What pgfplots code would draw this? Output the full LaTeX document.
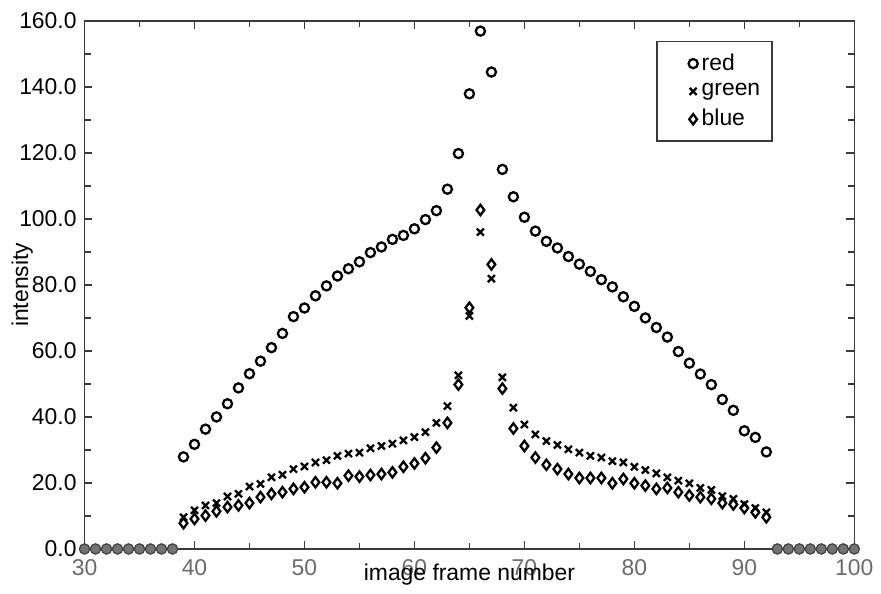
\documentclass[border=0pt]{standalone}
\usepackage{fontspec}
\setmainfont{Liberation Sans}
\usepackage{pgfplots}
\pgfplotsset{compat=1.18}
\definecolor{axisgray}{HTML}{3A3A3A}
\definecolor{ticklab}{HTML}{6A6A6A}

\begin{document}
\fontsize{11.5}{13.8}\selectfont
\begin{tikzpicture}
\begin{axis}[
  name=ax,
  scale only axis,
  width=387pt, height=265.5pt,
  xmin=30, xmax=100, ymin=0, ymax=160,
  xtick={30,40,...,100}, minor xtick={35,45,...,95},
  ytick={0,20,...,160}, minor ytick={10,30,...,150},
  tick align=inside,
  major tick length=4pt, minor tick length=3pt,
  axis line style={axisgray, line width=0.75pt},
  every tick/.style={axisgray, line width=0.75pt},
  /pgf/number format/assume math mode=true,
  yticklabel style={/pgf/number format/.cd, fixed, fixed zerofill, precision=1},
  xticklabel style={text=ticklab, yshift=-1.5pt},
  xlabel={image frame number}, ylabel={intensity},
  xlabel style={at={(axis description cs:0.5,-0.049)}, anchor=center},
  ylabel style={at={(axis description cs:-0.081,0.5)}, anchor=center},
  legend style={at={(axis description cs:0.743,0.962)}, anchor=north west,
    draw=axisgray, line width=0.75pt, inner xsep=4pt, inner ysep=4pt,
    row sep=1pt},
  legend cell align=left,
  legend image code/.code={
    \path (0pt,0pt) (15pt,0pt);
    \path[#1] plot[only marks] coordinates {(13.5pt,0pt)};
  },
]
% red
\addplot[only marks, mark=o, mark size=2.3pt, line width=1.15pt, black] coordinates {
  (39,27.9) (40,31.7) (41,36.3) (42,40.0) (43,44.0) (44,48.8) (45,53.1) (46,56.9)
  (47,61.0) (48,65.3) (49,70.4) (50,73.0) (51,76.7) (52,79.7) (53,82.7) (54,84.9)
  (55,87.0) (56,89.8) (57,91.5) (58,93.8) (59,95.0) (60,97.0) (61,99.8) (62,102.5)
  (63,109.0) (64,119.8) (65,137.9) (66,156.9) (67,144.5) (68,115.0) (69,106.7)
  (70,100.5) (71,96.3) (72,93.2) (73,91.2) (74,88.6) (75,86.3) (76,84.1) (77,81.6)
  (78,79.4) (79,76.4) (80,73.5) (81,70.0) (82,67.1) (83,64.2) (84,59.8) (85,56.3)
  (86,53.0) (87,49.8) (88,45.3) (89,42.0) (90,35.8) (91,33.8) (92,29.4)
};
% green
\addplot[only marks, mark=x, mark size=2.5pt, line width=1.15pt, black] coordinates {
  (39,9.6) (40,11.7) (41,13.2) (42,13.9) (43,15.9) (44,16.7) (45,18.9) (46,19.7)
  (47,21.7) (48,22.5) (49,24.2) (50,25.0) (51,26.2) (52,26.9) (53,28.2) (54,28.9)
  (55,29.2) (56,30.5) (57,31.2) (58,31.9) (59,32.9) (60,33.9) (61,35.4) (62,38.2)
  (63,43.3) (64,52.6) (65,70.6) (66,96.0) (67,81.9) (68,52.0) (69,42.8) (70,37.7)
  (71,34.7) (72,32.7) (73,31.5) (74,30.2) (75,29.2) (76,28.2) (77,27.7) (78,26.6)
  (79,26.2) (80,24.9) (81,23.9) (82,22.9) (83,21.7) (84,20.7) (85,19.9) (86,18.5)
  (87,17.9) (88,16.0) (89,15.2) (90,13.6) (91,12.4) (92,11.1)
};
% blue
\addplot[only marks, mark=diamond, mark size=2.6pt, line width=1.15pt, black] coordinates {
  (39,7.8) (40,9.1) (41,10.1) (42,11.4) (43,12.7) (44,13.2) (45,13.9) (46,15.7)
  (47,16.7) (48,17.2) (49,18.2) (50,18.7) (51,20.2) (52,20.2) (53,19.9) (54,22.2)
  (55,21.9) (56,22.4) (57,22.7) (58,23.2) (59,24.9) (60,25.9) (61,27.5) (62,30.7)
  (63,38.2) (64,49.8) (65,73.1) (66,102.7) (67,86.2) (68,48.6) (69,36.5) (70,31.2)
  (71,27.7) (72,25.5) (73,24.2) (74,22.7) (75,21.5) (76,21.5) (77,21.5) (78,19.9)
  (79,21.2) (80,19.9) (81,19.2) (82,18.2) (83,18.5) (84,17.2) (85,16.2) (86,15.7)
  (87,15.2) (88,13.9) (89,13.5) (90,12.4) (91,11.1) (92,9.6)
};
% frames with no signal (all channels zero)
\addplot[forget plot, only marks, mark=*, mark size=2.6pt, line width=0.6pt,
  draw=black!75, fill=black!55] coordinates {
  (30,0) (31,0) (32,0) (33,0) (34,0) (35,0) (36,0) (37,0) (38,0)
  (93,0) (94,0) (95,0) (96,0) (97,0) (98,0) (99,0) (100,0)
};
\legend{red, green, blue}
\end{axis}
\path ([shift={(-42.5pt,-20pt)}]ax.south west) rectangle ([shift={(11pt,10.5pt)}]ax.north east);
\end{tikzpicture}
\end{document}
